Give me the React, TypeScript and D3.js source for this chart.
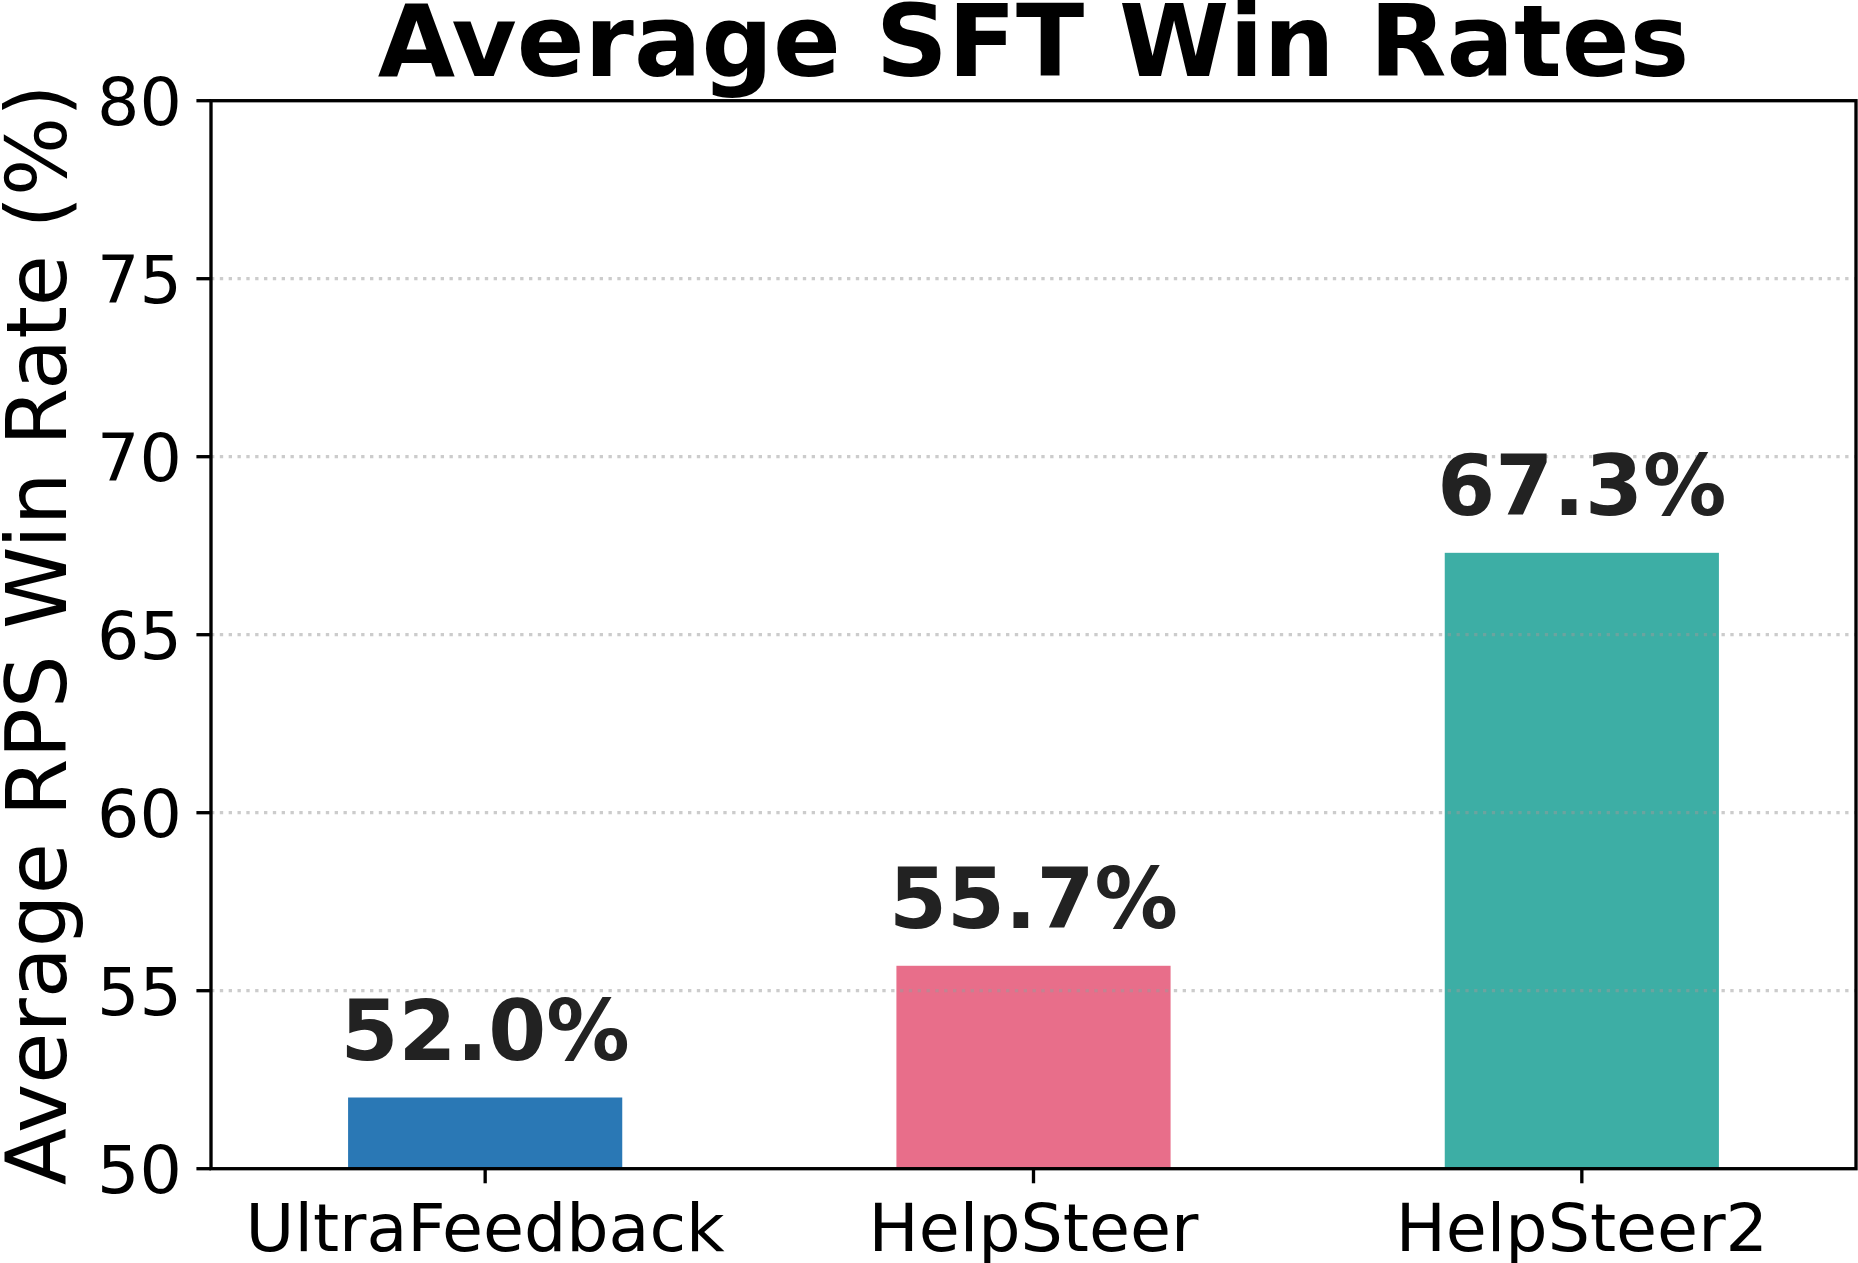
import React from 'react';
import * as d3 from 'd3';

const categories = ['UltraFeedback', 'HelpSteer', 'HelpSteer2'];
const winRates = [52.0, 55.7, 67.3];
const barColors = ['#2a78b5', '#e86e8a', '#3daea5'];
const yTicks = [50, 55, 60, 65, 70, 75, 80];

const W = 1858;
const H = 1263;
const left = 211;
const right = 1856;
const top = 100.7;
const bottom = 1168.7;
const pt = 300 / 72;
const font = '"DejaVu Sans", sans-serif';

const App: React.FC = () => {
  const x = d3
    .scaleBand<string>()
    .domain(categories)
    .range([left, right])
    .paddingInner(0.5)
    .paddingOuter(0.25);
  const y = d3.scaleLinear().domain([50, 80]).range([bottom, top]);

  const lw = 0.8 * pt;
  const tickLen = 3.5 * pt;
  const tickFs = 16 * pt;
  const valFs = 20 * pt;

  return (
    <div style={{ position: 'absolute', left: 0, top: 0 }}>
      <svg width={W} height={H} style={{ display: 'block', background: '#fff' }}>
        {/* bars */}
        {categories.map((c, i) => (
          <rect
            key={c}
            x={x(c)}
            y={y(winRates[i])}
            width={x.bandwidth()}
            height={bottom - y(winRates[i])}
            fill={barColors[i]}
          />
        ))}

        {/* dotted grid, drawn over the bars */}
        {yTicks
          .filter((t) => t > 50 && t < 80)
          .map((t) => (
            <line
              key={t}
              x1={left}
              x2={right}
              y1={y(t)}
              y2={y(t)}
              stroke="#999"
              strokeOpacity={0.5}
              strokeWidth={lw}
              strokeDasharray={`${lw} ${lw * 1.65}`}
            />
          ))}

        {/* value labels */}
        {categories.map((c, i) => (
          <text
            key={c}
            x={(x(c) as number) + x.bandwidth() / 2}
            y={y(winRates[i] + 0.5) - 0.236 * valFs}
            textAnchor="middle"
            fontFamily={font}
            fontWeight="bold"
            fontSize={valFs}
            fill="#222"
          >
            {winRates[i].toFixed(1)}%
          </text>
        ))}

        {/* y ticks */}
        {yTicks.map((t) => (
          <g key={t}>
            <line x1={left - tickLen} x2={left} y1={y(t)} y2={y(t)} stroke="#000" strokeWidth={lw} />
            <text
              x={left - tickLen - 3.5 * pt}
              y={y(t) + 0.3645 * tickFs}
              textAnchor="end"
              fontFamily={font}
              fontSize={tickFs}
              fill="#000"
            >
              {t}
            </text>
          </g>
        ))}

        {/* x ticks */}
        {categories.map((c) => {
          const cx = (x(c) as number) + x.bandwidth() / 2;
          return (
            <g key={c}>
              <line x1={cx} x2={cx} y1={bottom} y2={bottom + tickLen} stroke="#000" strokeWidth={lw} />
              <text
                x={cx}
                y={1251}
                textAnchor="middle"
                fontFamily={font}
                fontSize={tickFs}
                fill="#000"
              >
                {c}
              </text>
            </g>
          );
        })}

        {/* frame */}
        <rect
          x={left}
          y={top}
          width={right - left}
          height={bottom - top}
          fill="none"
          stroke="#000"
          strokeWidth={lw}
        />

        {/* title */}
        <text
          x={(left + right) / 2}
          y={76}
          textAnchor="middle"
          fontFamily={font}
          fontWeight="bold"
          fontSize={24 * pt}
          fill="#000"
        >
          Average SFT Win Rates
        </text>

        {/* y label */}
        <text
          transform={`translate(66,${(top + bottom) / 2}) rotate(-90)`}
          textAnchor="middle"
          fontFamily={font}
          fontSize={20 * pt}
          fill="#000"
        >
          Average RPS Win Rate (%)
        </text>
      </svg>
    </div>
  );
};

export default App;
